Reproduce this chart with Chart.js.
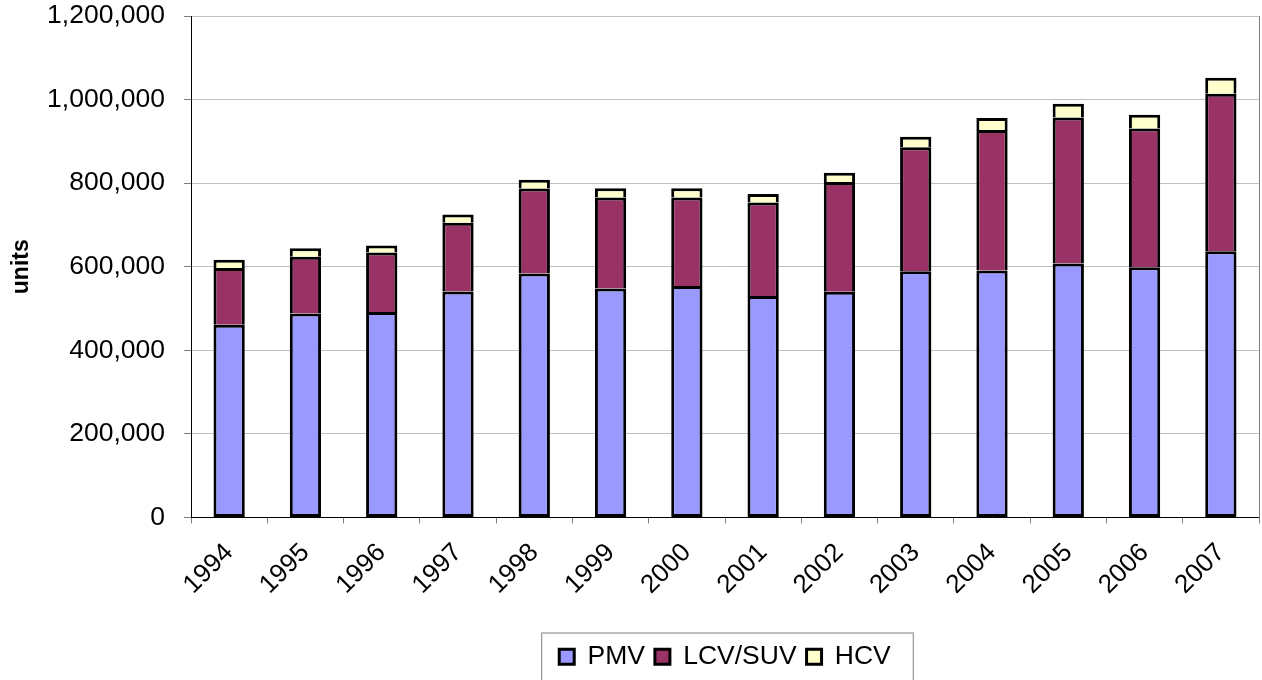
<!DOCTYPE html>
<html>
<head>
<meta charset="utf-8">
<script src="https://cdn.jsdelivr.net/npm/chart.js@4"></script>
<style>
  body { margin: 0; background: #fff; }
</style>
</head>
<body>
<canvas id="chart1" width="1262" height="680"></canvas>
<script>
// vehicle sales by type, 1994-2007
const years = ['1994', '1995', '1996', '1997', '1998', '1999', '2000', '2001', '2002', '2003', '2004', '2005', '2006', '2007'];
const pmv = [461000, 488000, 492000, 541000, 584000, 548000, 554000, 530000, 540000, 589000, 591000, 608000, 599000, 637000];
const lcvSuv = [136000, 136000, 142000, 164000, 203000, 218000, 212000, 224000, 263000, 297000, 336000, 349000, 332000, 377000];
const hcv = [20000, 20000, 17000, 20000, 21000, 22000, 22000, 20000, 22000, 25000, 29000, 33000, 33000, 38000];
const yMin = 0, yMax = 1200000, yStep = 200000;

const font = "'Liberation Sans', Arial, sans-serif";
Chart.defaults.font.family = font;
Chart.defaults.color = '#000';

// box round the legend, like the excel one
const legendBox = {
  id: 'legendBox',
  afterDraw(chart) {
    const lg = chart.legend;
    if (!lg || !lg.legendHitBoxes.length) return;
    const boxes = lg.legendHitBoxes;
    const left = boxes[0].left - 18;
    const last = boxes[boxes.length - 1];
    const right = last.left + last.width + 22;
    const c = chart.ctx;
    c.save();
    c.strokeStyle = '#808080';
    c.lineWidth = 1;
    c.strokeRect(left + 0.5, lg.top - 0.5, right - left, 60);
    c.restore();
  }
};

const ctx = document.getElementById('chart1');
new Chart(ctx, {
  type: 'bar',
  data: {
    labels: years,
    datasets: [
      { label: 'PMV', data: pmv, backgroundColor: '#9999FF', borderColor: '#000', borderWidth: 3, borderSkipped: false },
      { label: 'LCV/SUV', data: lcvSuv, backgroundColor: '#993366', borderColor: '#000', borderWidth: 3, borderSkipped: 'start' },
      { label: 'HCV', data: hcv, backgroundColor: '#FFFFCC', borderColor: '#000', borderWidth: 3, borderSkipped: 'start' }
    ]
  },
  options: {
    responsive: false,
    animation: false,
    layout: { padding: { top: 16, left: 0, right: 0, bottom: 0 } },
    datasets: { bar: { categoryPercentage: 1, barPercentage: 0.41 } },
    plugins: {
      tooltip: { enabled: false },
      legend: {
        position: 'bottom',
        fullSize: false,
        labels: { font: { size: 26.5 }, boxWidth: 15, boxHeight: 15, padding: 10, color: '#000' }
      }
    },
    scales: {
      x: {
        stacked: true,
        grid: { display: true, drawOnChartArea: false, offset: true, tickLength: 6, color: '#808080' },
        border: { color: '#000', width: 1 },
        ticks: { font: { size: 26 }, minRotation: 45, maxRotation: 45, color: '#000', padding: 14 },
        afterFit(scale) { scale.height = 116; }
      },
      y: {
        stacked: true,
        min: yMin,
        max: yMax,
        ticks: {
          stepSize: yStep,
          font: { size: 26.5 },
          color: '#000',
          padding: 19,
          callback: (v) => v.toLocaleString('en-US')
        },
        grid: { color: '#c0c0c0', tickColor: '#808080', tickLength: 7 },
        border: { color: '#000', width: 1 },
        title: { display: true, text: 'units', font: { size: 23, weight: 'bold' }, color: '#000', padding: 8 },
        afterFit(scale) {
          scale.width = 191;
          // the tick padding would otherwise push the plot down
          scale.paddingTop = 0;
          scale.paddingBottom = 0;
        }
      },
      y2: {
        position: 'right',
        min: yMin,
        max: yMax,
        ticks: { display: false },
        grid: { drawOnChartArea: false, drawTicks: false },
        border: { color: '#808080', width: 1 },
        afterFit(scale) { scale.width = 3; scale.paddingTop = 0; scale.paddingBottom = 0; }
      }
    }
  },
  plugins: [legendBox]
});
</script>
</body>
</html>
